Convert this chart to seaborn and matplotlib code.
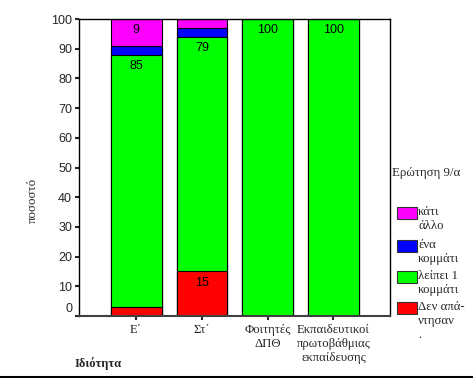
import matplotlib
matplotlib.use("Agg")
import matplotlib.pyplot as plt
import matplotlib.transforms as mtransforms
from matplotlib.patches import Rectangle
from matplotlib.lines import Line2D
import seaborn as sns
import pandas as pd
import numpy as np

sns.set_style("white")
plt.rcParams['font.family'] = ['Liberation Serif', 'DejaVu Serif']

categories = ["Ε΄", "Στ΄", "Φοιτητές\nΔΠΘ", "Εκπαιδευτικοί\nπρωτοβάθμιας\nεκπαίδευσης"]
no_answer = [3, 15, 0, 0]
missing_one = [85, 79, 100, 100]
one_piece = [3, 3, 0, 0]
something_else = [9, 3, 0, 0]

series_names = ["Δεν απά-\nντησαν\n.", "λείπει 1\nκομμάτι", "ένα\nκομμάτι", "κάτι\nάλλο"]
series_values = [no_answer, missing_one, one_piece, something_else]
colors = ["#FF0000", "#00FF00", "#0000FF", "#FF00FF"]

cum = np.cumsum(np.array(series_values), axis=0)

W, H = 473, 378
fig = plt.figure(figsize=(W/100, H/100), dpi=100)
ax = fig.add_axes([79/W, (H-316)/H, (390-79)/W, (316-19)/H])

# draw from top layer down so lower layers cover
for i in range(len(series_values) - 1, -1, -1):
    df = pd.DataFrame({"cat": categories, "val": cum[i]})
    sns.barplot(data=df, x="cat", y="val", color=colors[i], ax=ax,
                width=0.77, edgecolor="black", linewidth=0.8, saturation=1)

# value labels
label_sets = [
    (0, 3, 9),   # (cat index, layer index, value)
    (0, 1, 85),
    (1, 1, 79),
    (1, 0, 15),
    (2, 1, 100),
    (3, 1, 100),
]
for ci, li, v in label_sets:
    ax.annotate(str(v), (ci, cum[li][ci]), xytext=(0, -8), textcoords="offset points",
                ha="center", va="center", fontsize=9, color="black",
                family="Liberation Sans")

ax.set_xlim(-0.87, 3.86)
ax.set_ylim(0, 100)
ax.set_yticks(range(0, 101, 10))
ax.set_yticklabels([str(t) for t in range(0, 101, 10)], family="Liberation Sans", fontsize=9)
ax.tick_params(axis="y", direction="out", length=3, width=1.5, pad=2, left=True)
ax.tick_params(axis="x", direction="out", length=3, width=1.5, pad=3, bottom=True, labelsize=9.2)
lbl0 = ax.get_yticklabels()[0]
lbl0.set_transform(lbl0.get_transform() + mtransforms.ScaledTranslation(0, 6/72, fig.dpi_scale_trans))

ax.set_xlabel("")
ax.set_ylabel("ποσοστό", fontsize=9.3)
ax.yaxis.set_label_coords(-0.129, 0.39)

for s in ["top", "right", "left"]:
    ax.spines[s].set_color("black")
    ax.spines[s].set_linewidth(1)
ax.spines["bottom"].set_color("#404040")
ax.spines["bottom"].set_linewidth(1.5)

# legend drawn manually (patch aligned with first text line)
legend_tops = [207, 240, 271, 302]
for k, i in enumerate(range(3, -1, -1)):
    top = legend_tops[k]
    fig.add_artist(Rectangle((397/W, 1 - (top + 12)/H), 20/W, 12/H, transform=fig.transFigure,
                             facecolor=colors[i], edgecolor="#333333", linewidth=0.8))
    fig.text(418/W, 1 - (top - 1)/H, series_names[i], fontsize=9.2, ha="left", va="top",
             linespacing=1.22)

fig.text(392/W, 1 - 173/H, "Ερώτηση 9/α", fontsize=9.3, ha="left", va="center")
fig.text(75/W, 1 - 364/H, "Ιδιότητα", fontsize=9, fontweight="bold", ha="left", va="center")

fig.add_artist(Line2D([0, 1], [1 - 376.5/H, 1 - 376.5/H], transform=fig.transFigure,
                      color="black", linewidth=2.2))

fig.savefig("out.png", dpi=100)
